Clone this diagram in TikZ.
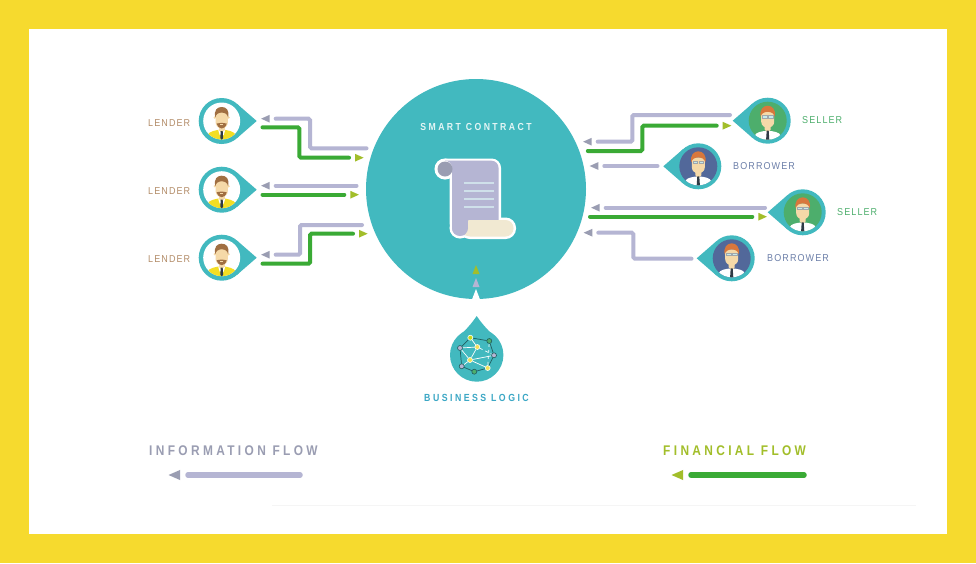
\documentclass[tikz,border=0pt]{standalone}
\usepackage{fontspec}
\usetikzlibrary{arrows.meta}
\newfontfamily\labelfont[LetterSpace=11,FakeStretch=0.9]{Liberation Sans}
\newfontfamily\titlefont[LetterSpace=24,FakeStretch=0.85]{Liberation Sans}
\definecolor{frameyellow}{HTML}{F6DA2E}
\definecolor{teal}{HTML}{42B9BF}
\definecolor{lavender}{HTML}{B5B5D3}
\definecolor{flowgreen}{HTML}{3AAA35}
\definecolor{tipgray}{HTML}{9A9DB2}
\definecolor{tipgreen}{HTML}{A2BE2A}
\definecolor{sellerbg}{HTML}{4DAE6C}
\definecolor{borrowerbg}{HTML}{52689A}
\definecolor{skin}{HTML}{F5D9A8}
\definecolor{hairbrown}{HTML}{A06F42}
\definecolor{hairorange}{HTML}{D8773C}
\definecolor{shirtyellow}{HTML}{F3DE24}
\definecolor{inkdark}{HTML}{2F3B45}
\definecolor{cream}{HTML}{F1E9D2}
\definecolor{scrollline}{HTML}{CFE0EA}
\tikzset{
    infoflow/.style={draw=lavender,line width=4pt,line cap=round,rounded corners=1.5pt,
        -{. Square[length=0pt,width=0pt,sep=6pt]Triangle[length=9pt,width=7pt,color=tipgray]}},
    cashflow/.style={draw=flowgreen,line width=4pt,line cap=round,rounded corners=1.5pt,
        -{. Square[length=0pt,width=0pt,sep=6pt]Triangle[length=9pt,width=7pt,color=tipgreen]}},
    pindisc/.style={circle,inner sep=0pt,minimum size=46pt},
    smalltext/.style={anchor=west,inner sep=0pt,font=\labelfont\fontsize{10}{10}\selectfont},
    titletext/.style={anchor=west,inner sep=0pt,font=\titlefont\bfseries\fontsize{14}{14}\selectfont},
    netnode/.style={circle,inner sep=0pt,minimum size=5pt,draw=white,line width=0.6pt},
    netedge/.style={draw=white,line width=0.7pt},
    netrim/.style={draw=teal!50!black,line width=0.7pt},
    scrollhalo/.style={draw=white,fill=white,line width=5pt},
    lenderpin/.pic={
        \fill[teal] (0,0) circle[radius=23];
        \fill[teal] (15.1,-17.3) -- (35,0) -- (15.1,17.3) -- cycle;
        \fill[white] (0,0) circle[radius=18.5];
        \begin{scope}
            \clip (0,0) circle[radius=18.5];
            \fill[shirtyellow] (-14,19) -- (-14,14) .. controls (-13,10.5) and (-6,9) .. (0,8.5) .. controls (6,9) and (13,10.5) .. (14,14) -- (14,19) -- cycle;
            \fill[skin] (-3,2) rectangle (3,10);
            \fill[white] (-3.5,9) -- (0,11.5) -- (3.5,9) -- (2,14) -- (-2,14) -- cycle;
            \fill[inkdark] (-1,10) -- (1,10) -- (1.4,17) -- (0,19) -- (-1.4,17) -- cycle;
        \end{scope}
        \fill[skin] (-6.9,-3.5) circle[radius=1.3];
        \fill[skin] (6.9,-3.5) circle[radius=1.3];
        \fill[skin] (-6.2,-9) -- (6.2,-9) -- (6.2,1) .. controls (6.2,5) and (3,7.5) .. (0,7.5) .. controls (-3,7.5) and (-6.2,5) .. (-6.2,1) -- cycle;
        \fill[hairbrown] (-6.4,-3.5) .. controls (-8,-11) and (-4.5,-14) .. (0,-14) .. controls (4.5,-14) and (8,-11) .. (6.4,-3.5) .. controls (5.5,-7) and (4,-8) .. (0,-8.5) .. controls (-4,-8) and (-5.5,-7) .. (-6.4,-3.5) -- cycle;
        \fill[hairbrown] (-5,2.5) .. controls (-3,3) and (-2,1.8) .. (0,1.8) .. controls (2,1.8) and (3,3) .. (5,2.5) .. controls (4,6) and (2,7.5) .. (0,7.5) .. controls (-2,7.5) and (-4,6) .. (-5,2.5) -- cycle;
        \fill[skin] (-1.6,3.4) rectangle (1.6,4.3);
    },
    pics/clerkpin/.style={code={
        \fill[teal] (0,0) circle[radius=23];
        \fill[teal] (-15.1,-17.3) -- (-35,0) -- (-15.1,17.3) -- cycle;
        \fill[#1] (0,0) circle[radius=19];
        \begin{scope}
            \clip (0,0) circle[radius=19];
            \fill[white] (-13,19) -- (-13,15) .. controls (-12,11.5) and (-6,10.5) .. (0,10) .. controls (6,10.5) and (12,11.5) .. (13,15) -- (13,19) -- cycle;
            \fill[skin] (-3,3) -- (3,3) -- (3,9) -- (0,12) -- (-3,9) -- cycle;
            \fill[inkdark] (-1,10) -- (1,10) -- (1.6,19) -- (-1.6,19) -- cycle;
        \end{scope}
        \fill[skin] (-6.5,-9) -- (6.5,-9) -- (6.5,1) .. controls (6.5,5) and (3,7) .. (0,7) .. controls (-3,7) and (-6.5,5) .. (-6.5,1) -- cycle;
        \fill[hairorange] (-7,-4) .. controls (-8.5,-11) and (-4.5,-15) .. (0,-15) .. controls (4.5,-15) and (8.5,-11) .. (7,-4) .. controls (6,-7.5) and (4,-8.5) .. (0,-9) .. controls (-4,-8.5) and (-6,-7.5) .. (-7,-4) -- cycle;
        \draw[fill=white!70!teal,draw=inkdark!45,line width=0.5pt] (-5.2,-5.2) rectangle (-0.8,-2.6);
        \draw[fill=white!70!teal,draw=inkdark!45,line width=0.5pt] (0.8,-5.2) rectangle (5.2,-2.6);
    }},
}
\begin{document}
\begin{tikzpicture}[x=1pt,y=-1pt]
    \useasboundingbox (0,0) rectangle (976,563);
    \fill[frameyellow] (0,0) rectangle (976,563);
    \fill[white] (29,29) rectangle (947,534);
    \draw[black!4,line width=0.8pt] (272,505) -- (916,505);

    % contract
    \node[circle,fill=teal,inner sep=0pt,minimum size=220pt] (contract) at (476,189) {};
    \node[anchor=center,inner sep=0pt,font=\titlefont\bfseries\fontsize{10.2}{11}\selectfont,text=white!85!teal] (contracttitle) at (476,126.5) {SMART CONTRACT};
    \draw[scrollhalo] (445,169) circle[radius=8];
    \draw[scrollhalo,rounded corners=7pt] (445,161) -- (498.5,161) -- (498.5,230) -- (452,230) -- (452,161) -- cycle;
    \draw[scrollhalo] (460,228) circle[radius=8];
    \draw[scrollhalo,rounded corners=8pt] (462,220) rectangle (513.5,236.5);
    \fill[lavender,rounded corners=7pt] (445,160.7) -- (498.5,160.7) -- (498.5,235) -- (452,235) -- (452,160.7) -- cycle;
    \fill[cream,rounded corners=8pt] (462,220) rectangle (513.5,236.5);
    \fill[lavender] (452,200) rectangle (468,228);
    \fill[lavender] (460,228) circle[radius=8];
    \fill[tipgray] (445,169) circle[radius=7.5];
    \fill[scrollline] (463.5,181.5) rectangle (493.5,183.5);
    \fill[scrollline] (463.5,189.5) rectangle (493.5,191.5);
    \fill[scrollline] (463.5,197.5) rectangle (493.5,199.5);
    \fill[scrollline] (463.5,205.5) rectangle (493.5,207.5);
    \fill[tipgreen] (476,265) -- (479.5,274) -- (472.5,274) -- cycle;
    \fill[lavender] (476,278) -- (479.5,287) -- (472.5,287) -- cycle;
    \fill[white] (476,289) -- (480,299.5) -- (472,299.5) -- cycle;

    % business logic
    \node[circle,fill=teal,inner sep=0pt,minimum size=53.4pt] (logic) at (476.7,355) {};
    \fill[teal] (457.2,338) .. controls (466,330) and (472,323) .. (476.7,316) .. controls (481.4,323) and (487.4,330) .. (496.2,338) -- cycle;
    \node[netnode,fill=tipgreen!60!yellow] (neta) at (470.3,337.7) {};
    \node[netnode,fill=sellerbg,draw=teal!50!black] (netb) at (489.3,341) {};
    \node[netnode,fill=lavender,draw=teal!50!black] (netc) at (460,348) {};
    \node[netnode,fill=shirtyellow!70!cream] (netd) at (477.3,347) {};
    \node[netnode,fill=lavender,draw=teal!50!black] (nete) at (494,355.3) {};
    \node[netnode,fill=shirtyellow!70!cream] (netf) at (470,360) {};
    \node[netnode,fill=lavender,draw=teal!50!black] (netg) at (461.7,366.3) {};
    \node[netnode,fill=shirtyellow!70!cream] (neth) at (487.7,368) {};
    \node[netnode,fill=sellerbg,draw=teal!50!black] (neti) at (474.3,371.7) {};
    \draw[netrim] (neta) -- (netb) -- (nete) -- (neth) -- (neti) -- (netg) -- (netc) -- (neta);
    \draw[netedge] (netc) -- (netd) -- (neta);
    \draw[netedge] (netd) -- (netf) -- (netc);
    \draw[netedge] (netf) -- (neth);
    \draw[netedge] (netf) -- (netg);
    \draw[netedge] (netf) -- (nete);
    \draw[netedge,dashed] (netd) -- (nete);
    \draw[netedge,dashed] (netb) -- (neth);
    \node[anchor=center,inner sep=0pt,font=\titlefont\bfseries\fontsize{10.3}{11}\selectfont,text=teal!90!blue] (logictitle) at (476.5,398) {BUSINESS LOGIC};

    % lenders
    \pic at (221.7,121) {lenderpin};
    \pic at (221.7,189.7) {lenderpin};
    \pic at (221.7,257.7) {lenderpin};
    \node[pindisc] (lenderone) at (221.7,121) {};
    \node[pindisc] (lendertwo) at (221.7,189.7) {};
    \node[pindisc] (lenderthree) at (221.7,257.7) {};
    \node[smalltext,text=hairbrown!80!white] (lenderonetext) at (148,123) {LENDER};
    \node[smalltext,text=hairbrown!80!white] (lendertwotext) at (148,191) {LENDER};
    \node[smalltext,text=hairbrown!80!white] (lenderthreetext) at (148,259) {LENDER};

    % sellers and borrowers
    \pic at (767.7,120.7) {clerkpin=sellerbg};
    \pic at (698.3,166.3) {clerkpin=borrowerbg};
    \pic at (802.7,212.3) {clerkpin=sellerbg};
    \pic at (731.7,258.3) {clerkpin=borrowerbg};
    \node[pindisc] (sellerone) at (767.7,120.7) {};
    \node[pindisc] (borrowerone) at (698.3,166.3) {};
    \node[pindisc] (sellertwo) at (802.7,212.3) {};
    \node[pindisc] (borrowertwo) at (731.7,258.3) {};
    \node[smalltext,text=sellerbg] (selleronetext) at (802,120) {SELLER};
    \node[smalltext,text=borrowerbg!85!white] (borroweronetext) at (733,166) {BORROWER};
    \node[smalltext,text=sellerbg] (sellertwotext) at (837,212) {SELLER};
    \node[smalltext,text=borrowerbg!85!white] (borrowertwotext) at (767,258) {BORROWER};

    % ends of the flows
    \coordinate (linfoa) at (260.7,118.7);
    \coordinate (lcasha) at (262.5,127.3);
    \coordinate (cinfoa) at (366.5,148.3);
    \coordinate (ccasha) at (364,157.7);
    \coordinate (linfob) at (260.7,185.7);
    \coordinate (lcashb) at (262.5,194.7);
    \coordinate (cinfob) at (356.5,185.7);
    \coordinate (ccashb) at (359.3,194.7);
    \coordinate (linfoc) at (260.7,254.7);
    \coordinate (lcashc) at (262.5,263.7);
    \coordinate (cinfoc) at (362,225);
    \coordinate (ccashc) at (368,233.7);
    \coordinate (sinfoa) at (730,115);
    \coordinate (scasha) at (731.7,125.7);
    \coordinate (dinfoa) at (582.7,141.7);
    \coordinate (dcasha) at (587.8,151);
    \coordinate (binfoa) at (657.5,166);
    \coordinate (einfoa) at (589.3,166);
    \coordinate (sinfob) at (765,207.7);
    \coordinate (scashb) at (767.3,216.7);
    \coordinate (dinfob) at (590.7,207.7);
    \coordinate (dcashb) at (590,216.7);
    \coordinate (binfob) at (691.5,258.7);
    \coordinate (einfob) at (583.3,232.7);

    % flows
    \draw[infoflow] (cinfoa) -- (310,148.3) -- (310,118.7) -- (linfoa);
    \draw[cashflow] (lcasha) -- (299.3,127.3) -- (299.3,157.7) -- (ccasha);
    \draw[infoflow] (cinfob) -- (linfob);
    \draw[cashflow] (lcashb) -- (ccashb);
    \draw[infoflow] (cinfoc) -- (300,225) -- (300,254.7) -- (linfoc);
    \draw[cashflow] (lcashc) -- (310,263.7) -- (310,233.7) -- (ccashc);
    \draw[infoflow] (sinfoa) -- (632.3,115) -- (632.3,141.7) -- (dinfoa);
    \draw[cashflow] (dcasha) -- (642.3,151) -- (642.3,125.7) -- (scasha);
    \draw[infoflow] (binfoa) -- (einfoa);
    \draw[infoflow] (sinfob) -- (dinfob);
    \draw[cashflow] (dcashb) -- (scashb);
    \draw[infoflow] (binfob) -- (633.3,258.7) -- (633.3,232.7) -- (einfob);

    % legend
    \node[titletext,text=tipgray] (infotitle) at (149,451) {INFORMATION FLOW};
    \node[titletext,text=tipgreen] (cashtitle) at (663,451) {FINANCIAL FLOW};
    \coordinate (infostart) at (300,475);
    \coordinate (infoend) at (168,475);
    \coordinate (cashstart) at (804,475);
    \coordinate (cashend) at (671,475);
    \draw[infoflow,line width=5.5pt,-{. Square[length=0pt,width=0pt,sep=8pt]Triangle[length=12pt,width=9pt,color=tipgray]}] (infostart) -- (infoend);
    \draw[cashflow,line width=5.5pt,-{. Square[length=0pt,width=0pt,sep=8pt]Triangle[length=12pt,width=9pt,color=tipgreen]}] (cashstart) -- (cashend);
\end{tikzpicture}
\end{document}
